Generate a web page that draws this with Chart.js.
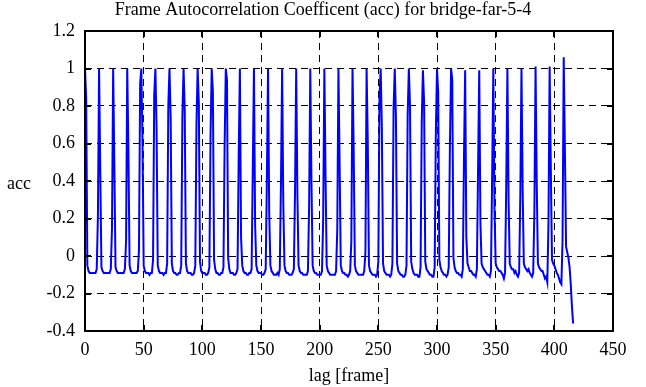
<!DOCTYPE html>
<html>
<head>
<meta charset="utf-8">
<script src="https://cdn.jsdelivr.net/npm/chart.js@4/dist/chart.umd.min.js"></script>
<style>
html,body{margin:0;padding:0;background:#fff;}
#wrap{width:646px;height:387px;position:relative;}
</style>
</head>
<body>
<div id="wrap"><canvas id="c" width="646" height="387"></canvas></div>
<script>
// Chart text
const titleText = "Frame Autocorrelation Coefficent (acc) for bridge-far-5-4";
const xTitle = "lag [frame]";
const yTitle = "acc";
// Axis tick settings
const xTicks = [0, 50, 100, 150, 200, 250, 300, 350, 400, 450];
const yTicks = [-0.4, -0.2, 0, 0.2, 0.4, 0.6, 0.8, 1.0, 1.2];
// Lag of first sample and step between samples
const lagStart = 0;
const lagStep = 1;
// acc values for lags 0..416 (one row = 12 lags)
const acc = [
 1.00, 0.84, -0.05, -0.08, -0.09, -0.09, -0.09, -0.09, -0.09, -0.09, -0.07, 0.21,
 1.00, 0.46, -0.06, -0.08, -0.09, -0.09, -0.09, -0.09, -0.09, -0.09, -0.07, 0.15,
 1.00, 0.49, -0.06, -0.08, -0.09, -0.09, -0.09, -0.09, -0.09, -0.09, -0.07, 0.08,
 1.00, 0.56, -0.05, -0.08, -0.09, -0.09, -0.09, -0.09, -0.09, -0.08, 0.03, 0.92,
 1.00, 0.62, -0.05, -0.08, -0.09, -0.09, -0.09, -0.10, -0.09, -0.09, -0.02, 0.86,
 1.00, 0.68, -0.05, -0.08, -0.09, -0.09, -0.09, -0.10, -0.09, -0.09, -0.04, 0.80,
 1.00, 0.74, -0.04, -0.08, -0.09, -0.09, -0.10, -0.10, -0.09, -0.09, -0.05, 0.74,
 1.00, 0.78, -0.04, -0.08, -0.09, -0.09, -0.09, -0.10, -0.10, -0.09, -0.05, 0.70,
 1.00, 0.82, -0.03, -0.08, -0.09, -0.09, -0.09, -0.10, -0.10, -0.09, -0.06, 0.65,
 1.00, 0.875, -0.02, -0.07, -0.09, -0.09, -0.10, -0.10, -0.09, -0.09, -0.06, 0.59,
 1.00, 0.94, -0.01, -0.07, -0.09, -0.09, -0.09, -0.10, -0.10, -0.09, -0.07, 0.53,
 1.00, 0.10, -0.05, -0.08, -0.09, -0.09, -0.10, -0.10, -0.09, -0.09, -0.07, 0.47,
 1.00, 0.16, -0.05, -0.08, -0.09, -0.09, -0.09, -0.10, -0.10, -0.09, -0.07, 0.40,
 1.00, 0.23, -0.05, -0.08, -0.09, -0.10, -0.10, -0.10, -0.09, -0.10, -0.07, 0.38,
 1.00, 0.28, -0.05, -0.08, -0.09, -0.09, -0.10, -0.10, -0.10, -0.09, -0.07, 0.34,
 1.00, 0.34, -0.05, -0.08, -0.09, -0.09, -0.10, -0.10, -0.10, -0.10, -0.08, 0.26,
 1.00, 0.40, -0.05, -0.08, -0.09, -0.09, -0.10, -0.10, -0.10, -0.10, -0.08, 0.20,
 1.00, 0.43, -0.05, -0.08, -0.09, -0.10, -0.10, -0.10, -0.10, -0.10, -0.08, 0.14,
 1.00, 0.49, -0.05, -0.08, -0.09, -0.09, -0.10, -0.10, -0.11, -0.10, -0.08, 0.08,
 1.00, 0.56, -0.05, -0.08, -0.09, -0.10, -0.10, -0.10, -0.10, -0.10, -0.08, 0.02,
 1.00, 0.61, -0.05, -0.08, -0.09, -0.10, -0.10, -0.10, -0.11, -0.10, -0.03, 0.85,
 1.00, 0.68, -0.04, -0.08, -0.09, -0.10, -0.10, -0.10, -0.11, -0.10, -0.04, 0.79,
 1.00, 0.74, -0.04, -0.08, -0.09, -0.10, -0.10, -0.11, -0.11, -0.10, -0.05, 0.75,
 1.00, 0.80, -0.03, -0.07, -0.09, -0.10, -0.10, -0.10, -0.11, -0.11, -0.06, 0.72,
 0.99, 0.82, -0.03, -0.07, -0.08, -0.09, -0.10, -0.10, -0.11, -0.11, -0.06, 0.65,
 1.00, 0.875, -0.02, -0.06, -0.08, -0.09, -0.10, -0.10, -0.11, -0.10, -0.06, 0.59,
 1.00, 0.94, -0.01, -0.06, -0.08, -0.09, -0.09, -0.10, -0.10, -0.11, -0.07, 0.53,
 0.99, 0.10, -0.04, -0.06, -0.08, -0.08, -0.09, -0.10, -0.10, -0.11, -0.07, 0.47,
 0.99, 0.18, -0.04, -0.06, -0.07, -0.08, -0.09, -0.10, -0.10, -0.11, -0.08, 0.43,
 1.00, 0.25, -0.04, -0.06, -0.07, -0.08, -0.08, -0.09, -0.10, -0.12, -0.09, 0.37,
 1.00, 0.30, -0.04, -0.06, -0.07, -0.07, -0.09, -0.08, -0.10, -0.11, -0.09, 0.32,
 1.00, 0.35, -0.04, -0.06, -0.07, -0.08, -0.07, -0.09, -0.10, -0.11, -0.09, 0.24,
 1.01, 0.39, -0.04, -0.06, -0.07, -0.08, -0.08, -0.10, -0.12, -0.11, -0.14, 0.17,
 1.01, 0.47, -0.02, -0.04, -0.05, -0.07, -0.09, -0.10, -0.12, -0.14, -0.15, 0.08,
 1.06, 0.57, 0.05, 0.02, -0.01, -0.06, -0.15, -0.27, -0.36
];

const points = acc.map((v, i) => ({ x: lagStart + i * lagStep, y: v }));
const FONT = "'Liberation Serif', 'DejaVu Serif', serif";

const framePlugin = {
  id: 'frame',
  afterDraw(chart) {
    const { ctx, chartArea: a, scales } = chart;
    const xs = scales.x, ys = scales.y;
    ctx.save();
    ctx.strokeStyle = '#000';
    ctx.lineWidth = 2;
    ctx.setLineDash([]);
    // inward tick marks
    const tl = 6;
    ctx.beginPath();
    xTicks.forEach(t => {
      const px = Math.round(xs.getPixelForValue(t));
      ctx.moveTo(px, a.bottom); ctx.lineTo(px, a.bottom - tl);
      ctx.moveTo(px, a.top); ctx.lineTo(px, a.top + tl);
    });
    yTicks.forEach(t => {
      const py = Math.round(ys.getPixelForValue(t));
      ctx.moveTo(a.left, py); ctx.lineTo(a.left + tl, py);
      ctx.moveTo(a.right, py); ctx.lineTo(a.right - tl, py);
    });
    ctx.stroke();
    ctx.strokeRect(a.left, a.top, a.right - a.left, a.bottom - a.top);
    ctx.fillStyle = '#000';
    ctx.font = "18px " + FONT;
    // title
    ctx.textAlign = 'center';
    ctx.textBaseline = 'alphabetic';
    ctx.fillText(titleText, chart.width / 2, 15);
    // y axis title (horizontal, as in the reference)
    ctx.textBaseline = 'middle';
    ctx.fillText(yTitle, 19, (a.top + a.bottom) / 2 + 3);
    ctx.restore();
  }
};

new Chart(document.getElementById('c'), {
  type: 'line',
  data: {
    datasets: [{
      data: points,
      borderColor: '#0000ff',
      borderWidth: 2,
      pointRadius: 0,
      tension: 0,
      fill: false
    }]
  },
  options: {
    responsive: false,
    animation: false,
    events: [],
    layout: { padding: { left: 0, right: 33, top: 31, bottom: 0 } },
    plugins: {
      legend: { display: false },
      tooltip: { enabled: false },
      title: { display: false }
    },
    scales: {
      x: {
        type: 'linear',
        min: 0, max: 450,
        afterBuildTicks: s => { s.ticks = xTicks.map(v => ({ value: v })); },
        ticks: { color: '#000', font: { family: FONT, size: 18 }, padding: 8, maxRotation: 0, autoSkip: false },
        grid: { color: '#000', lineWidth: 1, drawTicks: false },
        border: { display: false, dash: [7, 5] },
        title: { display: true, text: xTitle, color: '#000', font: { family: FONT, size: 18 }, padding: { top: 0, bottom: 0 } },
        afterFit: s => { s.height = 56; }
      },
      y: {
        type: 'linear',
        min: -0.4, max: 1.2,
        afterBuildTicks: s => { s.ticks = yTicks.map(v => ({ value: v })); },
        ticks: {
          color: '#000', font: { family: FONT, size: 18 }, padding: 10, autoSkip: false,
          callback: v => { const r = Math.round(v * 10) / 10; return r === 0 ? '0' : String(r); }
        },
        grid: { color: '#000', lineWidth: 1, drawTicks: false },
        border: { display: false, dash: [7, 5] },
        afterFit: s => { s.width = 85; }
      }
    }
  },
  plugins: [framePlugin]
});
</script>
</body>
</html>
